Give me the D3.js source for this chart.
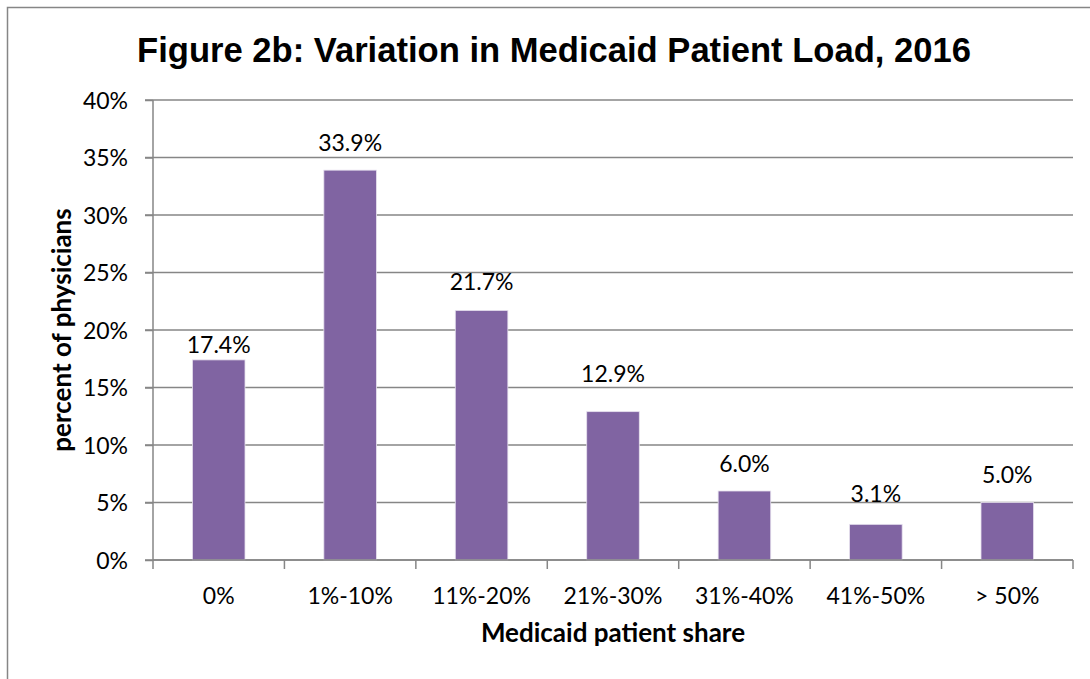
<!DOCTYPE html>
<html>
<head>
<meta charset="utf-8">
<script src="https://cdn.jsdelivr.net/npm/d3@7"></script>
<style>
  body { margin: 0; background: #fff; }
  .tick text { font-family: Lato, "Open Sans", sans-serif; }
</style>
</head>
<body>
<div class="board"></div>
<script>
// chart data
const shares = ["0%", "1%-10%", "11%-20%", "21%-30%", "31%-40%", "41%-50%", "> 50%"];
const pctPhysicians = [17.4, 33.9, 21.7, 12.9, 6.0, 3.1, 5.0];
const yTicks = [0, 5, 10, 15, 20, 25, 30, 35, 40];

const W = 1090, H = 679;
const plotLeft = 153, plotRight = 1073, plotTop = 100, plotBottom = 560;
const gridColor = "#868686";
const barColor = "#8064A2";
const labelFont = "Lato, 'Open Sans', sans-serif";
// value labels were hand-placed in the original, so gaps above bars differ
const labelGap = [7, 19, 20, 30, 19, 22, 20];

const svg = d3.select(".board").append("svg")
  .attr("width", W)
  .attr("height", H);

// outer chart frame (right/bottom edges fall outside the picture)
svg.append("rect")
  .attr("x", 7.5).attr("y", 7.5)
  .attr("width", W + 20).attr("height", H + 20)
  .attr("fill", "none")
  .attr("stroke", gridColor)
  .attr("stroke-width", 1.5);

const x = d3.scaleBand().domain(shares).range([plotLeft, plotRight]).paddingInner(0.6).paddingOuter(0.3);
const y = d3.scaleLinear().domain([0, 40]).range([plotBottom, plotTop]);

// gridlines
svg.append("g").selectAll("line")
  .data(yTicks)
  .join("line")
  .attr("x1", plotLeft - 8).attr("x2", plotRight)
  .attr("y1", d => y(d)).attr("y2", d => y(d))
  .attr("stroke", gridColor)
  .attr("stroke-width", 1.5);

// y axis
const yAxis = svg.append("g")
  .attr("transform", `translate(${plotLeft},0)`)
  .call(d3.axisLeft(y).tickValues(yTicks).tickFormat(d => d + "%").tickSize(8).tickPadding(17));
yAxis.selectAll("line, path").attr("stroke", gridColor).attr("stroke-width", 1.5);
yAxis.select(".domain").attr("d", `M0,${plotTop}V${plotBottom}`);
yAxis.selectAll("text").attr("font-size", 23).attr("fill", "#000").attr("dy", "0.36em");

// bars
svg.append("g").selectAll("rect")
  .data(pctPhysicians)
  .join("rect")
  .attr("x", (d, i) => x(shares[i]))
  .attr("y", d => y(d))
  .attr("width", x.bandwidth())
  .attr("height", d => y(0) - y(d))
  .attr("fill", barColor)
  .attr("stroke", "#e6e0ee")
  .attr("stroke-width", 0.8);

// x axis
const step = (plotRight - plotLeft) / shares.length;
const bounds = d3.range(shares.length + 1).map(i => plotLeft + i * step);
const xAxis = svg.append("g");
xAxis.append("line")
  .attr("x1", plotLeft).attr("x2", plotRight)
  .attr("y1", plotBottom).attr("y2", plotBottom)
  .attr("stroke", gridColor).attr("stroke-width", 1.5);
xAxis.selectAll(".xt")
  .data(bounds)
  .join("line")
  .attr("class", "xt")
  .attr("x1", d => d).attr("x2", d => d)
  .attr("y1", plotBottom).attr("y2", plotBottom + 9)
  .attr("stroke", gridColor).attr("stroke-width", 1.5);
xAxis.selectAll(".xl")
  .data(shares)
  .join("text")
  .attr("class", "xl")
  .attr("x", d => x(d) + x.bandwidth() / 2)
  .attr("y", 604)
  .attr("text-anchor", "middle")
  .attr("font-family", labelFont)
  .attr("font-size", 23)
  .text(d => d);

// value labels
svg.append("g").selectAll("text")
  .data(pctPhysicians)
  .join("text")
  .attr("x", (d, i) => x(shares[i]) + x.bandwidth() / 2)
  .attr("y", (d, i) => y(d) - labelGap[i])
  .attr("text-anchor", "middle")
  .attr("font-family", labelFont)
  .attr("font-size", 23)
  .text(d => d.toFixed(1) + "%");

// title
svg.append("text")
  .attr("x", 554).attr("y", 62)
  .attr("text-anchor", "middle")
  .attr("font-family", "'Liberation Sans', Arial, sans-serif")
  .attr("font-weight", "bold")
  .attr("font-size", 34.6)
  .text("Figure 2b: Variation in Medicaid Patient Load, 2016");

// axis titles
svg.append("text")
  .attr("transform", "translate(71,330) rotate(-90)")
  .attr("text-anchor", "middle")
  .attr("font-family", labelFont)
  .attr("font-weight", "bold")
  .attr("font-size", 26)
  .text("percent of physicians");

svg.append("text")
  .attr("x", 613).attr("y", 642)
  .attr("text-anchor", "middle")
  .attr("font-family", labelFont)
  .attr("font-weight", "bold")
  .attr("font-size", 26)
  .text("Medicaid patient share");
</script>
</body>
</html>
